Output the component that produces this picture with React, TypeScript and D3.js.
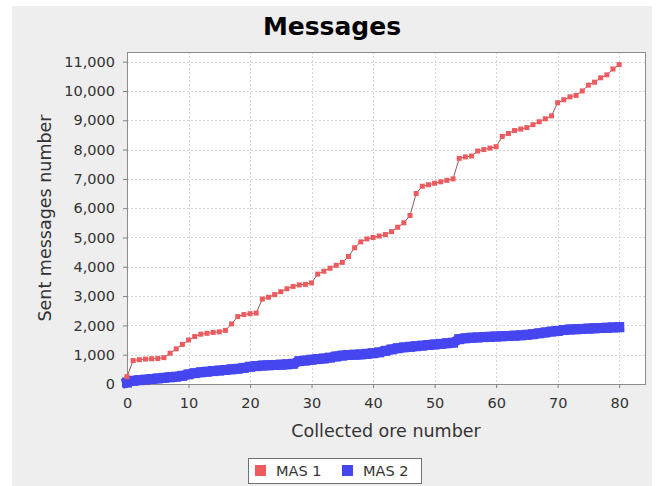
import React, { useEffect, useRef } from "react"
import * as d3 from "d3"

const chartTitle = "Messages"
const xLabel = "Collected ore number"
const yLabel = "Sent messages number"
const seriesNames = ["MAS 1", "MAS 2"]
const seriesColors = ["#ee5a5e", "#4646f0"]
const xTicks = [0, 10, 20, 30, 40, 50, 60, 70, 80]
const yTicks = [0, 1000, 2000, 3000, 4000, 5000, 6000, 7000, 8000, 9000, 10000, 11000]

// value at collected ore number = index (0..80)
const mas1 = [
  250, 800, 830, 850, 860, 870, 900, 1050, 1200, 1350,
  1500, 1620, 1700, 1730, 1760, 1780, 1830, 2050, 2300, 2370,
  2400, 2420, 2900, 2960, 3050, 3150, 3250, 3330, 3380, 3400,
  3450, 3750, 3850, 3950, 4050, 4150, 4350, 4650, 4850, 4950,
  5000, 5050, 5100, 5200, 5350, 5500, 5750, 6500, 6750, 6800,
  6850, 6900, 6950, 7000, 7700, 7750, 7780, 7950, 8000, 8050,
  8100, 8450, 8550, 8650, 8700, 8750, 8850, 8950, 9050, 9150,
  9600, 9700, 9800, 9850, 10000, 10200, 10300, 10450, 10550, 10750,
  10900,
]
const mas2 = [
  50, 110, 130, 150, 170, 190, 210, 230, 250, 280,
  330, 370, 400, 420, 440, 460, 480, 500, 520, 550,
  590, 610, 630, 640, 650, 660, 670, 690, 780, 800,
  830, 850, 870, 900, 940, 970, 990, 1000, 1010, 1030,
  1050, 1080, 1130, 1180, 1220, 1250, 1270, 1290, 1310, 1330,
  1350, 1370, 1390, 1410, 1530, 1560, 1580, 1590, 1600, 1610,
  1620, 1630, 1640, 1650, 1660, 1680, 1700, 1730, 1760, 1790,
  1810, 1840, 1860, 1870, 1880, 1890, 1900, 1910, 1920, 1930,
  1940,
]

const font = "'DejaVu Sans', sans-serif"

export default function App() {
  const ref = useRef<SVGSVGElement>(null)

  useEffect(() => {
    const svg = d3.select(ref.current)
    svg.selectAll("*").remove()
    const width = 659
    const height = 486
    const left = 127, right = 645, top = 52, bottom = 384

    svg.append("rect").attr("width", width).attr("height", height).attr("fill", "#fff")
    svg.append("rect").attr("x", 12).attr("y", 6).attr("width", 640).attr("height", 480).attr("fill", "#eeeeee")

    const x = d3.scaleLinear().domain([0, 84.2]).range([left, right])
    const y = d3.scaleLinear().domain([0, 11330]).range([bottom, top])

    svg.append("rect")
      .attr("x", left).attr("y", top)
      .attr("width", right - left).attr("height", bottom - top)
      .attr("fill", "#fff")

    // grid lines
    const grid = svg.append("g").attr("stroke", "#d6d6d6").attr("stroke-dasharray", "2,2").attr("stroke-width", 1)
    grid.selectAll(".gx").data(xTicks.filter(d => d > 0)).enter().append("line")
      .attr("x1", d => Math.round(x(d)) + 0.5).attr("x2", d => Math.round(x(d)) + 0.5)
      .attr("y1", top).attr("y2", bottom)
    grid.selectAll(".gy").data(yTicks.filter(d => d > 0)).enter().append("line")
      .attr("y1", d => Math.round(y(d)) + 0.5).attr("y2", d => Math.round(y(d)) + 0.5)
      .attr("x1", left).attr("x2", right)

    // plot border
    svg.append("rect")
      .attr("x", left + 0.5).attr("y", top + 0.5)
      .attr("width", right - left).attr("height", bottom - top)
      .attr("fill", "none").attr("stroke", "#8c8c8c")

    // axes
    const yAxis = d3.axisLeft(y).tickValues(yTicks).tickFormat(d3.format(",")).tickSize(4).tickPadding(8)
    const gy = svg.append("g").attr("transform", `translate(${left},0)`).call(yAxis)
    const xAxis = d3.axisBottom(x).tickValues(xTicks).tickFormat(d3.format("d")).tickSize(4).tickPadding(10)
    const gx = svg.append("g").attr("transform", `translate(0,${bottom})`).call(xAxis)
    for (const g of [gx, gy]) {
      g.select(".domain").remove()
      g.selectAll("line").attr("stroke", "#808080")
      g.selectAll("text").attr("fill", "#333").style("font-family", font).style("font-size", "14.5px")
    }

    // MAS 2 (thick band)
    const line = d3.line<number>().x((d, i) => x(i)).y(d => y(d))
    svg.append("path")
      .attr("d", line(mas2))
      .attr("fill", "none")
      .attr("stroke", seriesColors[1])
      .attr("stroke-width", 10)
      .attr("stroke-linecap", "square")
    svg.selectAll(".m2").data(mas2).enter().append("rect")
      .attr("x", (d, i) => x(i) - 5).attr("y", d => y(d) - 5)
      .attr("width", 10).attr("height", 10)
      .attr("fill", seriesColors[1])

    // MAS 1
    svg.append("path")
      .attr("d", line(mas1))
      .attr("fill", "none")
      .attr("stroke", "#8a5a5a")
      .attr("stroke-width", 1)
    svg.selectAll(".m1").data(mas1).enter().append("rect")
      .attr("x", (d, i) => x(i) - 2.5).attr("y", d => y(d) - 2.5)
      .attr("width", 5).attr("height", 5)
      .attr("fill", seriesColors[0])

    // titles
    svg.append("text").text(chartTitle)
      .attr("x", 332).attr("y", 35).attr("text-anchor", "middle")
      .style("font-family", font).style("font-size", "25px").style("font-weight", "bold").attr("fill", "#000")
    svg.append("text").text(xLabel)
      .attr("x", (left + right) / 2).attr("y", 437).attr("text-anchor", "middle")
      .style("font-family", font).style("font-size", "17.5px").attr("fill", "#333")
    svg.append("text").text(yLabel)
      .attr("transform", `translate(51,${(top + bottom) / 2}) rotate(-90)`).attr("text-anchor", "middle")
      .style("font-family", font).style("font-size", "17.5px").attr("fill", "#333")

    // legend
    const legend = svg.append("g")
    legend.append("rect")
      .attr("x", 248.5).attr("y", 458.5).attr("width", 173).attr("height", 25)
      .attr("fill", "#fff").attr("stroke", "#707070")
    const itemX = [255, 342]
    seriesNames.forEach((name, i) => {
      legend.append("rect")
        .attr("x", itemX[i]).attr("y", 465).attr("width", 11).attr("height", 11)
        .attr("fill", seriesColors[i])
      legend.append("text").text(name)
        .attr("x", itemX[i] + 21).attr("y", 476)
        .style("font-family", font).style("font-size", "14.5px").attr("fill", "#333")
    })
  }, [])

  return <svg ref={ref} width={659} height={486} style={{ position: "absolute", left: 0, top: 0 }} />
}
